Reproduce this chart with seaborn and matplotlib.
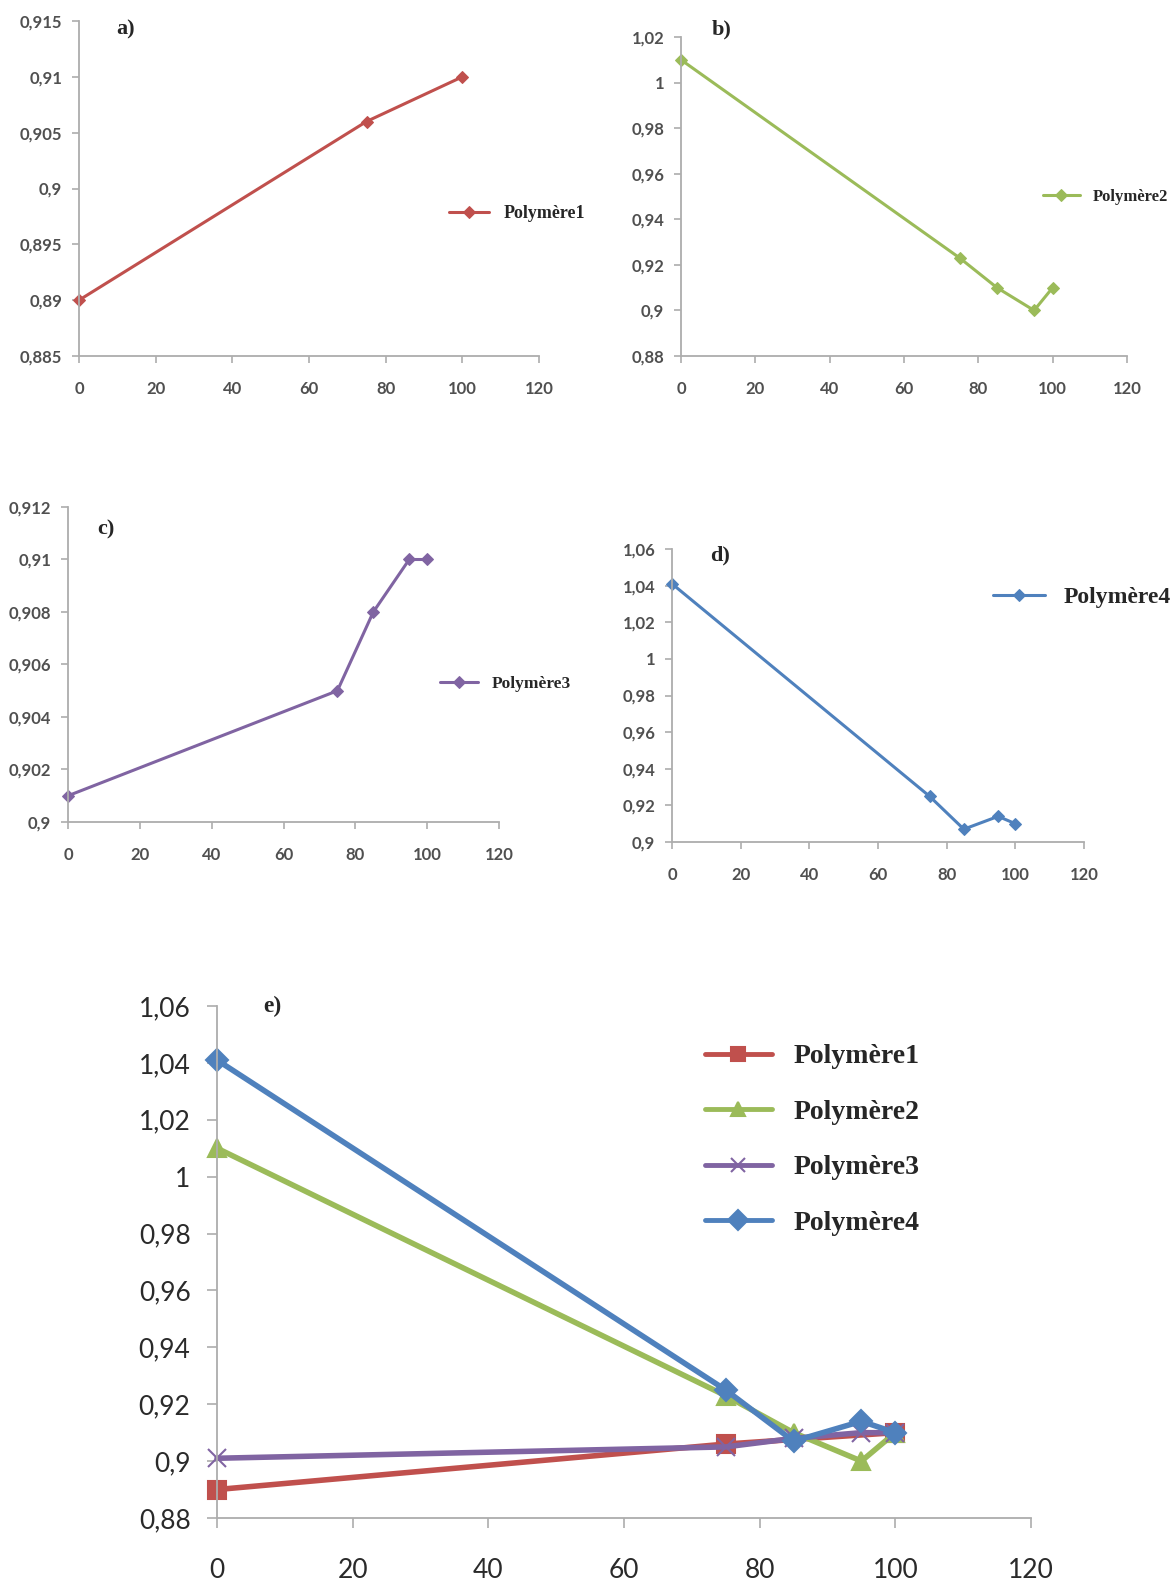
import matplotlib
matplotlib.use("Agg")
import matplotlib.pyplot as plt
import seaborn as sns
from matplotlib.ticker import FixedLocator, FuncFormatter

# Density vs. composition for four polymer blends
x_p1 = [0, 75, 100]
y_p1 = [0.890, 0.906, 0.910]

x_p2 = [0, 75, 85, 95, 100]
y_p2 = [1.010, 0.923, 0.910, 0.900, 0.910]

x_p3 = [0, 75, 85, 95, 100]
y_p3 = [0.901, 0.905, 0.908, 0.910, 0.910]

x_p4 = [0, 75, 85, 95, 100]
y_p4 = [1.041, 0.925, 0.907, 0.914, 0.910]

names = ["Polymère1", "Polymère2", "Polymère3", "Polymère4"]
colors = ["#C0504D", "#9BBB59", "#8064A2", "#4F81BD"]
x_ticks = [0, 20, 40, 60, 80, 100, 120]

sns.set_theme(style="ticks")
plt.rcParams["font.family"] = ["Lato", "DejaVu Sans"]

W, H = 1176, 1582
fig = plt.figure(figsize=(W / 100, H / 100), dpi=100)
fig.patch.set_facecolor("white")

SERIF = ["Liberation Serif", "DejaVu Serif"]
AXIS_GREY = "#ADADAD"
LABEL_GREY = "#505050"


def px_rect(left, top, right, bottom):
    return [left / W, 1 - bottom / H, (right - left) / W, (bottom - top) / H]


def fmt(v, _pos=None):
    return f"{round(v, 4):g}".replace(".", ",")


def style_axes(ax, yticks, fs, tick_len, weight="bold"):
    ax.set_xlim(0, 120)
    ax.set_ylim(yticks[0], yticks[-1])
    ax.xaxis.set_major_locator(FixedLocator(x_ticks))
    ax.yaxis.set_major_locator(FixedLocator(yticks))
    ax.xaxis.set_major_formatter(FuncFormatter(fmt))
    ax.yaxis.set_major_formatter(FuncFormatter(fmt))
    for s in ("top", "right"):
        ax.spines[s].set_visible(False)
    for s in ("left", "bottom"):
        ax.spines[s].set_color(AXIS_GREY)
        ax.spines[s].set_linewidth(1.3)
    ax.tick_params(axis="both", direction="out", length=tick_len, width=1.2,
                   color=AXIS_GREY, labelsize=fs, labelcolor=LABEL_GREY)
    for lab in ax.get_xticklabels() + ax.get_yticklabels():
        lab.set_fontweight(weight)
    ax.tick_params(axis="y", pad=7)
    ax.tick_params(axis="x", pad=13)
    ax.set_xlabel("")
    ax.set_ylabel("")
    ax.patch.set_alpha(0)


def small_panel(rect, x, y, color, label, yticks, tag, tag_xy, leg_xy, leg_fs):
    ax = fig.add_axes(px_rect(*rect))
    sns.lineplot(x=x, y=y, ax=ax, color=color, linewidth=2.2, marker="D",
                 markersize=6.5, markeredgecolor=color, label=label, clip_on=False)
    style_axes(ax, yticks, 12, 5)
    leg = ax.legend(loc="center left",
                    bbox_to_anchor=(leg_xy[0] / W, 1 - leg_xy[1] / H),
                    bbox_transform=fig.transFigure, frameon=False,
                    handlelength=2.2, handletextpad=0.8, borderpad=0,
                    borderaxespad=0,
                    prop={"family": SERIF, "weight": "bold", "size": leg_fs})
    for h in leg.legend_handles:
        h.set_markersize(6)
    fig.text(tag_xy[0] / W, 1 - tag_xy[1] / H, tag, family=SERIF,
             weight="bold", fontsize=16, ha="center", va="center")
    return ax


small_panel((79, 21, 539, 356), x_p1, y_p1, colors[0], names[0],
            [0.885, 0.89, 0.895, 0.9, 0.905, 0.91, 0.915],
            "a)", (126, 29), (449, 214), 13)
small_panel((681, 37, 1127, 356), x_p2, y_p2, colors[1], names[1],
            [0.88, 0.9, 0.92, 0.94, 0.96, 0.98, 1.0, 1.02],
            "b)", (722, 29), (1043, 197), 12)
small_panel((68, 507, 499, 822), x_p3, y_p3, colors[2], names[2],
            [0.9, 0.902, 0.904, 0.906, 0.908, 0.91, 0.912],
            "c)", (106, 529), (440, 684), 12.5)
small_panel((672, 549, 1084, 842), x_p4, y_p4, colors[3], names[3],
            [0.9, 0.92, 0.94, 0.96, 0.98, 1.0, 1.02, 1.04, 1.06],
            "d)", (720, 555), (993, 597), 17)

# Combined panel
ax = fig.add_axes(px_rect(217, 1006, 1031, 1518))
series = [(x_p1, y_p1, "s", 13), (x_p2, y_p2, "^", 13),
          (x_p3, y_p3, "x", 13), (x_p4, y_p4, "D", 11)]
for (x, y, mk, ms), c, n in zip(series, colors, names):
    sns.lineplot(x=x, y=y, ax=ax, color=c, linewidth=4, marker=mk,
                 markersize=ms, markeredgecolor=c, markeredgewidth=1.5,
                 label=n, clip_on=False)
style_axes(ax, [0.88, 0.9, 0.92, 0.94, 0.96, 0.98, 1.0, 1.02, 1.04, 1.06], 19, 7,
           weight="normal")
ax.tick_params(axis="x", pad=22)
ax.tick_params(axis="y", pad=12)
for lab in ax.get_xticklabels() + ax.get_yticklabels():
    lab.set_color("#2A2A2A")
leg = ax.legend(loc="upper left", bbox_to_anchor=(705 / W, 1 - 1044 / H),
                bbox_transform=fig.transFigure, frameon=False, handlelength=2.4,
                handletextpad=0.8, labelspacing=1.08, borderpad=0, borderaxespad=0,
                prop={"family": SERIF, "weight": "bold", "size": 20})
for h in leg.legend_handles:
    h.set_linewidth(3.5)
    h.set_markersize(10)
fig.text(272 / W, 1 - 1006 / H, "e)", family=SERIF, weight="bold",
         fontsize=17, ha="center", va="center")

fig.savefig("out.png", dpi=100, facecolor="white")
